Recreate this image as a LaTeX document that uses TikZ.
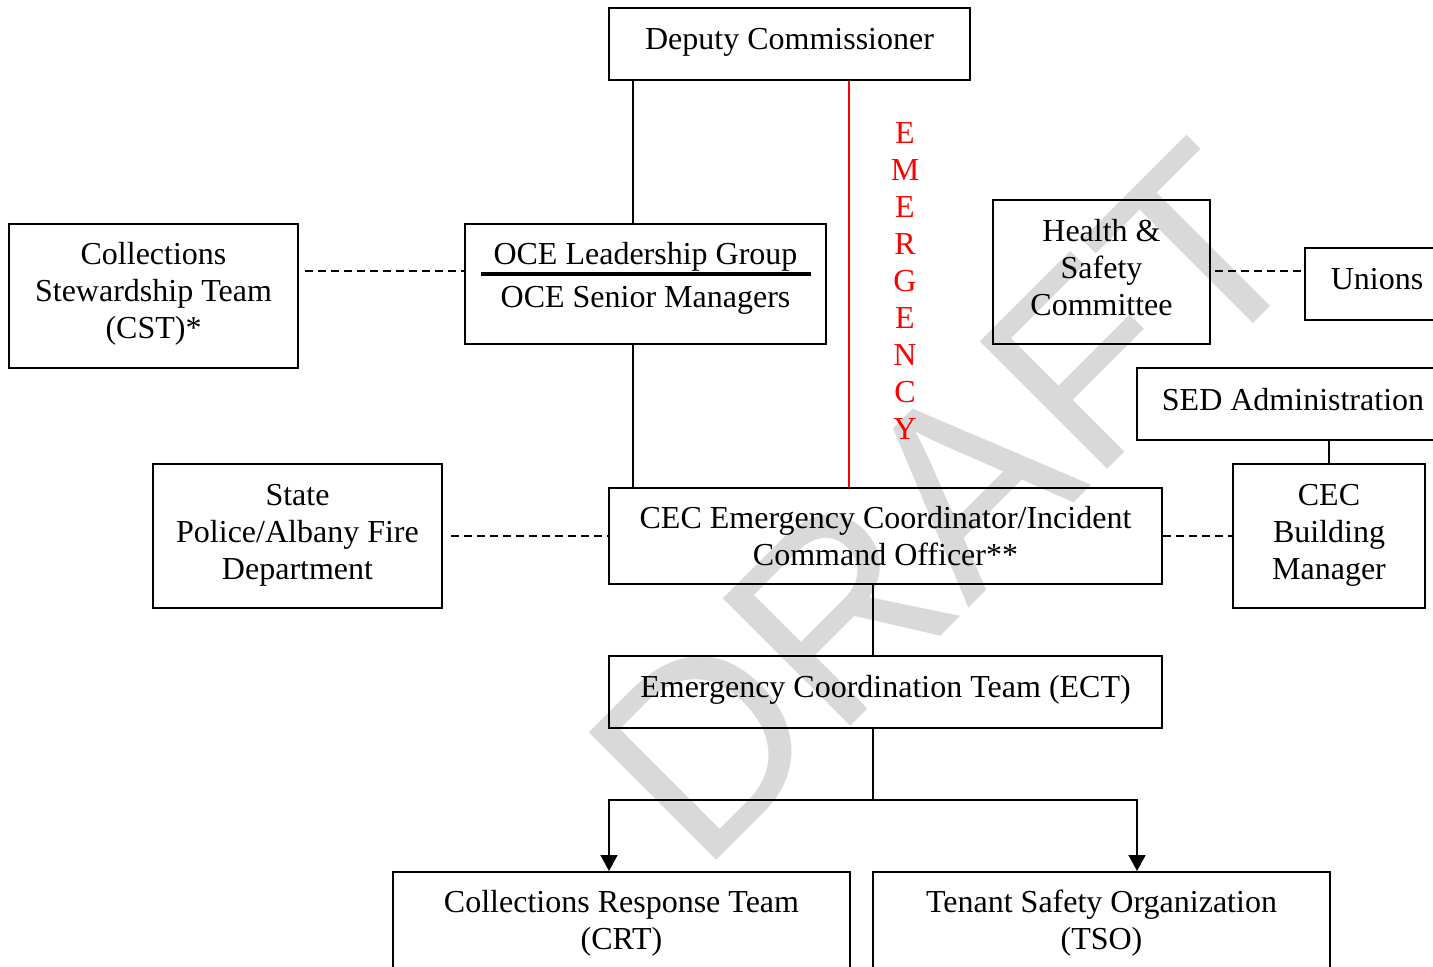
\documentclass[tikz,border=0pt]{standalone}
\usepackage{fontspec}
\setmainfont{Liberation Serif}
\setsansfont{Liberation Sans}
\usetikzlibrary{arrows.meta,fit,calc}
\begin{document}
\begin{tikzpicture}[x=0.5pt,y=-0.5pt,
  box/.style={draw=black,line width=1pt,inner sep=0pt,rectangle},
  txt/.style={inner sep=0pt,anchor=north,align=center,font=\fontsize{16}{18.5}\selectfont},
  link/.style={draw=black,line width=0.75pt},
  dlink/.style={link,dash pattern=on 4pt off 2.5pt},
  arr/.style={link,-{Triangle[length=8pt,width=8.5pt]}}]
\useasboundingbox (0,0) rectangle (1433,966);
\clip (0,0) rectangle (1433,966);
% watermark
\node[rotate=45,anchor=base west,inner sep=0pt,text=black!15,font=\sffamily\fontsize{131}{131}\selectfont] (wm) at (701,876) {DRAFT};
% boxes
\node[box,fit={(609,8) (970,80)}] (dc) {};
\node[box,fit={(9,224) (298,368)}] (cst) {};
\node[box,fit={(465,224) (826,344)}] (oce) {};
\node[box,fit={(993,200) (1210,344)}] (hs) {};
\node[box,fit={(1305,248) (1460,320)}] (un) {};
\node[box,fit={(1137,368) (1460,440)}] (sed) {};
\node[box,fit={(153,464) (442,608)}] (sp) {};
\node[box,fit={(609,488) (1162,584)}] (cec) {};
\node[box,fit={(1233,464) (1425,608)}] (bm) {};
\node[box,fit={(609,656) (1162,728)}] (ect) {};
\node[box,fit={(393,872) (850,1000)}] (crt) {};
\node[box,fit={(873,872) (1330,1000)}] (tso) {};
% texts
\node[txt] (dct) at ([yshift=-10.5pt]dc.north) {Deputy Commissioner};
\node[txt] (cstt) at ([yshift=-9.25pt]cst.north) {Collections\\Stewardship Team\\(CST)*};
\node[txt] (ocet1) at ([yshift=-9.25pt]oce.north) {OCE Leadership Group};
\node[txt] (ocet2) at ([yshift=-31.5pt]oce.north) {OCE Senior Managers};
\draw[line width=2pt] ($(oce.north west)+(17,51)$) -- ($(oce.north east)+(-16,51)$);
\node[txt] (hst) at ([yshift=-9.75pt]hs.north) {Health \&\\Safety\\Committee};
\node[txt] (unt) at (1377,267.5) {Unions};
\node[txt] (sedt) at (1293,387.5) {SED Administration};
\node[txt] (spt) at ([yshift=-10.25pt]sp.north) {State\\Police/Albany Fire\\Department};
\node[txt] (cect) at ([yshift=-9.5pt]cec.north) {CEC Emergency Coordinator/Incident\\Command Officer**};
\node[txt] (bmt) at ([yshift=-10.25pt]bm.north) {CEC\\Building\\Manager};
\node[txt] (ectt) at ([yshift=-9.75pt]ect.north) {Emergency Coordination Team (ECT)};
\node[txt] (crtt) at ([yshift=-9.5pt]crt.north) {Collections Response Team\\(CRT)};
\node[txt] (tsot) at ([yshift=-9.5pt]tso.north) {Tenant Safety Organization\\(TSO)};
\node[txt,text=red] (em) at (905,122.5) {E\\M\\E\\R\\G\\E\\N\\C\\Y};
% connectors
\coordinate (xl) at (633,0);
\coordinate (xr) at (849,0);
\draw[link] (dc.south -| xl) -- (oce.north -| xl);
\draw[link] (oce.south -| xl) -- (cec.north -| xl);
\draw[link,draw=red] (dc.south -| xr) -- (cec.north -| xr);
\coordinate (yd) at (0,271);
\draw[dlink] ([xshift=3pt]cst.east |- yd) -- (oce.west |- yd);
\draw[dlink] ([xshift=2pt]hs.east |- yd) -- (un.west |- yd);
\draw[link] (sed.south -| bm.north) -- (bm.north);
\draw[dlink] ([xshift=4pt]sp.east) -- (cec.west);
\draw[dlink] (cec.east) -- (bm.west);
\coordinate (jc) at (873,800);
\coordinate (jl) at (609,800);
\coordinate (jr) at (1137,800);
\draw[link] (cec.south -| jc) -- (ect.north -| jc);
\draw[link] (ect.south -| jc) -- (jc);
\draw[arr] (jc) -- (jl) -- (crt.north -| jl);
\draw[arr] (jc) -- (jr) -- (tso.north -| jr);
\end{tikzpicture}
\end{document}
